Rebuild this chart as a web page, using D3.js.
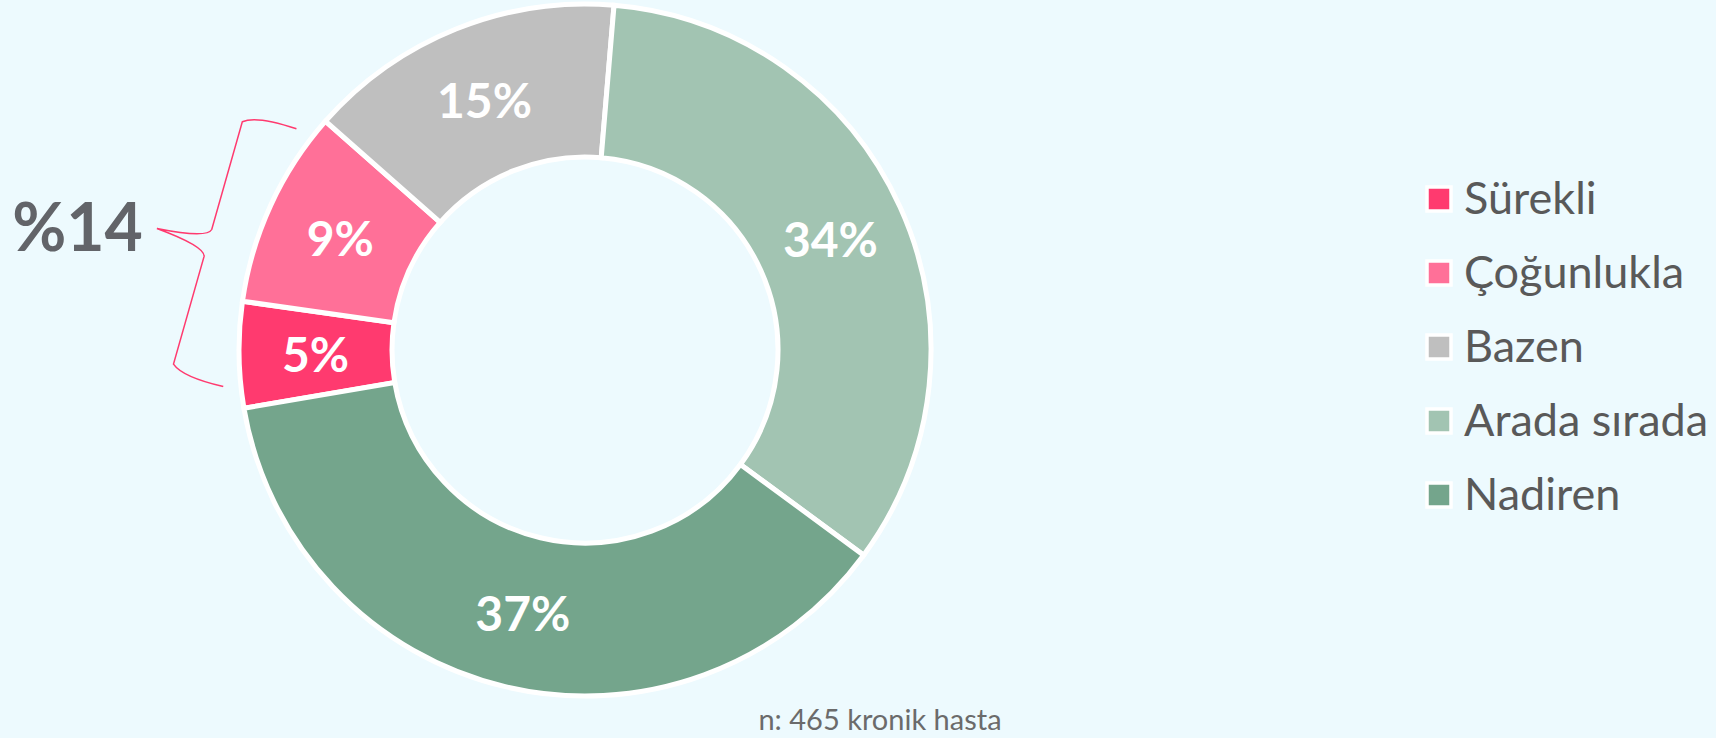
<!DOCTYPE html>
<html>
<head>
<meta charset="utf-8">
<script src="https://cdn.jsdelivr.net/npm/d3@7"></script>
<style>
  html, body { margin: 0; padding: 0; background: #edfafe; }
  svg { display: block; }
</style>
</head>
<body>
<svg class="donut-chart" width="1716" height="738"></svg>
<script>
// Data (n = 465 chronic patients)
const categories = ["Sürekli", "Çoğunlukla", "Bazen", "Arada sırada", "Nadiren"];
const counts = [23, 43, 69, 157, 173];
const colors = ["#ff3a6f", "#ff7098", "#bfbfbf", "#a2c4b2", "#74a58c"];
const highlighted = ["Sürekli", "Çoğunlukla"]; // grouped by the brace
const footnote = "n: 465 kronik hasta";

const svg = d3.select(".donut-chart");
const cx = 585, cy = 350;
const outerR = 346, innerR = 193;
const font = "Lato, 'Open Sans', 'Noto Sans', sans-serif";

const total = d3.sum(counts);
const pct = v => Math.round(v / total * 100);

const data = categories.map((c, i) => ({ cat: c, value: counts[i], color: colors[i] }));

// Excel-like first slice angle
const start = 260.3 * Math.PI / 180;
const pie = d3.pie().sort(null).value(d => d.value)
    .startAngle(start).endAngle(start + 2 * Math.PI);
const arcs = pie(data);

const arc = d3.arc().innerRadius(innerR).outerRadius(outerR);
const labelArc = d3.arc().innerRadius((innerR + outerR) / 2).outerRadius((innerR + outerR) / 2);

const g = svg.append("g").attr("transform", `translate(${cx},${cy})`);

g.selectAll("path.slice")
    .data(arcs)
    .enter()
    .append("path")
    .attr("class", "slice")
    .attr("d", arc)
    .attr("fill", d => d.data.color)
    .attr("stroke", "#ffffff")
    .attr("stroke-width", 5)
    .attr("stroke-linejoin", "miter");

// Percent labels
g.selectAll("text.pct")
    .data(arcs)
    .enter()
    .append("text")
    .attr("class", "pct")
    .attr("transform", d => `translate(${labelArc.centroid(d)})`)
    .attr("text-anchor", "middle")
    .attr("dominant-baseline", "central")
    .attr("fill", "#ffffff")
    .attr("font-family", font)
    .attr("font-weight", "bold")
    .attr("font-size", 48)
    .text(d => pct(d.data.value) + "%");

// Brace around the highlighted slices
const hl = arcs.filter(d => highlighted.includes(d.data.cat));
const a0 = d3.min(hl, d => d.startAngle), a1 = d3.max(hl, d => d.endAngle);
const mid = (a0 + a1) / 2;
const half = 134;           // half span of brace
const uEnd = outerR - 8, uSpine = outerR + 46, uTip = outerR + 99;

const bracePath = `M${uEnd},${half} Q${uSpine - 12},${half + 2} ${uSpine},${half - 8}
  L${uSpine},14 Q${uSpine + 2},4 ${uTip},0 Q${uSpine + 2},-4 ${uSpine},-14
  L${uSpine},${-half + 8} Q${uSpine - 12},${-half - 2} ${uEnd},${-half}`;

g.append("path")
    .attr("d", bracePath)
    .attr("transform", `rotate(${mid * 180 / Math.PI - 90})`)
    .attr("fill", "none")
    .attr("stroke", "#ff3a6f")
    .attr("stroke-width", 1.5);

// Sum label next to the brace tip
const tipX = cx + uTip * Math.sin(mid), tipY = cy - uTip * Math.cos(mid);
svg.append("text")
    .attr("x", tipX - 14)
    .attr("y", tipY - 3)
    .attr("text-anchor", "end")
    .attr("dominant-baseline", "central")
    .attr("fill", "#626469")
    .attr("font-family", font)
    .attr("font-weight", "bold")
    .attr("font-size", 66)
    .text("%" + d3.sum(hl, d => pct(d.data.value)));

// Legend
const legend = svg.append("g").attr("transform", "translate(1427,199)");
const rowH = 74;
const items = legend.selectAll("g.item")
    .data(data)
    .enter()
    .append("g")
    .attr("class", "item")
    .attr("transform", (d, i) => `translate(0,${i * rowH})`);

items.append("rect")
    .attr("x", 0).attr("y", -12)
    .attr("width", 24).attr("height", 24)
    .attr("fill", d => d.color)
    .attr("stroke", "#ffffff")
    .attr("stroke-width", 3.5);

items.append("text")
    .attr("x", 37)
    .attr("y", 15)
    .attr("fill", "#595959")
    .attr("font-family", font)
    .attr("font-size", 45)
    .text(d => d.cat);

// Footnote
svg.append("text")
    .attr("x", 880)
    .attr("y", 730)
    .attr("text-anchor", "middle")
    .attr("fill", "#6b6b6b")
    .attr("font-family", font)
    .attr("font-size", 29)
    .text(footnote);
</script>
</body>
</html>
